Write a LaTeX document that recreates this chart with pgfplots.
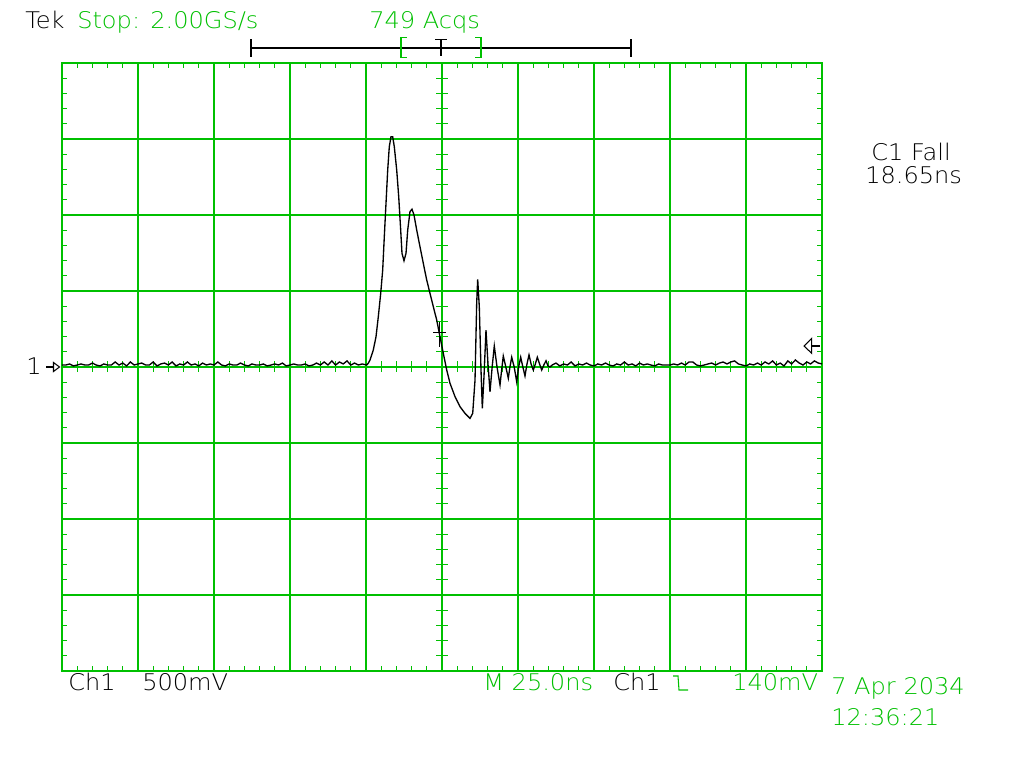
\documentclass[border=0pt]{standalone}
\usepackage{pgfplots}
\pgfplotsset{compat=1.18}
\usepackage{pgfplotstable}
\usepackage{fontspec}
\setmainfont{DejaVu Sans ExtraLight}[FakeStretch=1.05]
\definecolor{scopegreen}{RGB}{0,192,0}

\pgfplotstableread{
t v
-125 0.013
-123.75 0.013
-122.5 0.020
-121.25 0.007
-120 0.013
-118.75 0.020
-117.5 0.013
-116.25 0.013
-115 0.026
-113.75 0.013
-112.5 0.007
-111.25 0.020
-110 0.013
-108.75 0.013
-107.5 0.033
-106.25 0.013
-105 0.026
-103.75 0.007
-102.5 0.033
-101.25 0.013
-100 0.020
-98.75 0.026
-97.5 0.013
-96.25 0.013
-95 0.033
-93.75 0.007
-92.5 0.020
-91.25 0.026
-90 0.013
-88.75 0.033
-87.5 0.007
-86.25 0.020
-85 0.013
-83.75 0.033
-82.5 0.013
-81.25 0.020
-80 0.007
-78.75 0.026
-77.5 0.013
-76.25 0.020
-75 0.013
-73.75 0.033
-72.5 0.013
-71.25 0.007
-70 0.020
-68.75 0.013
-67.5 0.013
-66.25 0.026
-65 0.013
-63.75 0.007
-62.5 0.020
-61.25 0.013
-60 0.013
-58.75 0.020
-57.5 0.007
-56.25 0.013
-55 0.020
-53.75 0.013
-52.5 0.026
-51.25 0.007
-50 0.013
-48.75 0.020
-47.5 0.013
-46.25 0.013
-45 0.020
-43.75 0.007
-42.5 0.013
-41.25 0.026
-40 0.013
-38.75 0.033
-37.5 0.013
-36.25 0.040
-35 0.013
-33.75 0.033
-32.5 0.020
-31.25 0.040
-30 0.013
-28.75 0.026
-27.5 0.013
-26.25 0.020
-24.77 0.013
-24.2 0.026
-23.68 0.046
-22.60 0.112
-21.71 0.199
-20.95 0.331
-20.16 0.485
-19.51 0.638
-18.98 0.857
-18.42 1.077
-17.86 1.296
-17.34 1.449
-16.78 1.515
-16.22 1.515
-15.69 1.449
-14.90 1.296
-14.24 1.120
-13.59 0.901
-13.16 0.748
-12.50 0.699
-11.84 0.748
-11.28 0.901
-10.53 1.022
-9.87 1.038
-9.21 1.000
-8.32 0.901
-7.24 0.791
-6.15 0.682
-5.03 0.572
-3.95 0.485
-2.86 0.397
-1.74 0.309
-0.66 0.199
0.43 0.090
1.55 -0.020
2.63 -0.107
4.28 -0.195
5.92 -0.261
7.57 -0.305
9.21 -0.338
10.10 -0.305
10.86 -0.086
11.41 0.419
11.74 0.577
12.27 0.397
12.83 -0.020
13.26 -0.272
13.82 -0.060
14.47 0.243
15.13 0.020
15.79 -0.163
16.50 0.000
17.20 0.138
18.10 0.000
19.08 -0.118
19.62 -0.020
20.16 0.072
21.00 0.000
21.81 -0.074
22.35 0.000
22.93 0.064
23.75 0.000
24.57 -0.097
25.20 0.000
25.89 0.064
26.60 0.000
27.30 -0.059
27.95 0.020
28.62 0.079
29.30 0.020
30.03 -0.020
30.70 0.020
31.35 0.064
32.10 0.020
32.80 -0.020
33.50 0.013
34.21 0.041
34.87 0.007
35.53 0.000
36.25 0.013
37.5 0.026
38.75 0.007
40 0.020
41.25 0.013
42.5 0.033
43.75 0.007
45 0.020
46.25 0.013
47.5 0.026
48.75 0.013
50 0.007
51.25 0.020
52.5 0.013
53.75 0.026
55 0.013
56.25 0.007
57.5 0.020
58.75 0.013
60 0.033
61.25 0.013
62.5 0.020
63.75 0.007
65 0.026
66.25 0.013
67.5 0.020
68.75 0.013
70 0.007
71.25 0.020
72.5 0.013
73.75 0.013
75 0.013
76.25 0.020
77.5 0.013
78.75 0.026
80 0.013
81.25 0.033
82.5 0.033
83.75 0.013
85 0.007
86.25 0.013
87.5 0.020
88.75 0.026
90 0.013
91.25 0.026
92.5 0.033
93.75 0.020
95 0.033
96.25 0.040
97.5 0.020
98.75 0.013
100 0.007
101.25 0.020
102.5 0.013
103.75 0.026
105 0.013
106.25 0.033
107.5 0.020
108.75 0.040
110 0.013
111.25 0.026
112.5 0.007
113.75 0.040
115 0.020
116.25 0.046
117.5 0.026
118.75 0.013
120 0.033
121.25 0.020
122.5 0.040
123.75 0.026
125 0.020
}\trace

\begin{document}
\begin{tikzpicture}
\useasboundingbox (0,0) rectangle (768pt,576pt);
% centre-line graticule ticks (pixel coordinates)
\begin{scope}[x=0.75pt,y=-0.75pt,yshift=576pt]
\foreach \i in {1,...,49} \draw[scopegreen,line width=0.8pt] ({62+\i*15.2},361.5) -- ++(0,11);
\foreach \j in {1,...,39} \draw[scopegreen,line width=0.8pt] (436,{63+\j*15.2}) -- ++(12,0);
\end{scope}
\begin{axis}[at={(46.5pt,72.75pt)}, anchor=south west, scale only axis,
  width=570pt, height=456pt,
  xmin=-125, xmax=125, ymin=-2, ymax=2,
  xtick={-125,-100,-75,-50,-25,0,25,50,75,100,125},
  ytick={-2,-1.5,-1,-0.5,0,0.5,1,1.5,2},
  xticklabels={}, yticklabels={},
  minor x tick num=4, minor y tick num=4,
  tick align=inside, major tick length=0pt, minor tick length=4pt,
  grid=major, major grid style={scopegreen, line width=0.8pt},
  axis line style={scopegreen, line width=0.8pt},
  minor tick style={scopegreen, line width=0.8pt},
  clip=false]
\addplot[black, line width=1pt, mark=none] table {\trace};
\draw[black, line width=0.8pt] (axis cs:-2.86,0.23) -- (axis cs:1.32,0.23);
\draw[black, line width=0.8pt] (axis cs:-0.89,0.298) -- (axis cs:-0.89,0.133);
\end{axis}
\begin{scope}[x=0.75pt,y=-0.75pt,yshift=576pt,
  every node/.style={inner sep=0pt, font=\fontsize{17.2}{20}\selectfont}]
% header
\node[anchor=base west] at (25,28.3) {Tek};
\node[anchor=base west, text=scopegreen] at (77,28.3) {Stop: 2.00GS/s};
\node[anchor=base west, text=scopegreen] at (369,28.3) {749 Acqs};
\draw[black, line width=0.8pt] (251,48) -- (631,48);
\draw[black, line width=0.8pt] (251,39.5) -- (251,57.5);
\draw[black, line width=0.8pt] (631,39.5) -- (631,57.5);
\draw[scopegreen, line width=0.8pt] (407,37.5) -- (401,37.5) -- (401,57.5) -- (407,57.5);
\draw[scopegreen, line width=0.8pt] (475,37.5) -- (481,37.5) -- (481,57.5) -- (475,57.5);
\draw[black, line width=0.8pt] (435,39.5) -- (447,39.5);
\draw[black, line width=0.8pt] (441,39.5) -- (441,56);
% ground marker
\node[anchor=base east] at (42,375) {1};
\draw[black, line width=0.8pt] (46,367) -- (53.5,367);
\draw[black, line width=0.8pt] (53.5,362.5) -- (59.5,367) -- (53.5,371.5) -- cycle;
% trigger level marker
\draw[black, line width=0.8pt] (804,346) -- (811.7,338.3) -- (811.7,353.3) -- cycle;
\draw[black, line width=0.8pt] (811.7,346) -- (820,346);
% measurement
\node[anchor=base west] at (871,160.7) {C1 Fall};
\node[anchor=base west] at (865,183.3) {18.65ns};
% footer
\node[anchor=base west] at (68,690.7) {Ch1};
\node[anchor=base west] at (142,690.7) {500mV};
\node[anchor=base west, text=scopegreen] at (483,690.7) {M 25.0ns};
\node[anchor=base west] at (613,690.7) {Ch1};
\draw[scopegreen, line width=0.8pt] (673,676) -- (678,676) -- (679,690) -- (688,690);
\node[anchor=base west, text=scopegreen] at (732,690.7) {140mV};
\node[anchor=base west, text=scopegreen] at (831,694.3) {7 Apr 2034};
\node[anchor=base west, text=scopegreen] at (831,725) {12:36:21};
\end{scope}
\end{tikzpicture}
\end{document}
